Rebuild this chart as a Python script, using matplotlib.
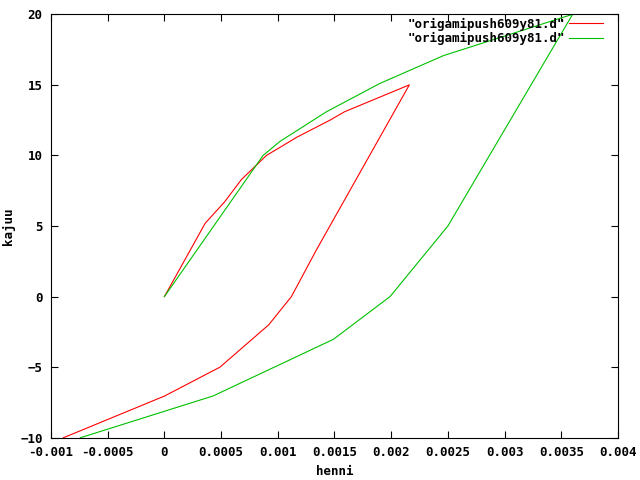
import matplotlib
matplotlib.use("Agg")
import matplotlib.pyplot as plt

# curve 1 (red): load up to peak, then unload
red_x = [0.0, 0.00036, 0.00053, 0.00068, 0.0009, 0.00117, 0.00146, 0.00159, 0.00216,
         0.00134, 0.00112, 0.00092, 0.00049, 0.0, -0.00089]
red_y = [0.0, 5.2, 6.7, 8.3, 10.0, 11.3, 12.5, 13.1, 15.0,
         3.3, 0.0, -2.0, -5.0, -7.05, -10.0]

# curve 2 (green)
green_x = [0.0, 0.00087, 0.00102, 0.00143, 0.0019, 0.00246, 0.0036,
           0.0025, 0.00199, 0.00149, 0.00043, -0.00074]
green_y = [0.0, 10.0, 11.0, 13.1, 15.1, 17.07, 20.0,
           5.0, 0.0, -3.03, -7.04, -10.0]

legend_label = '"origamipush609y81.d"'
x_ticks = [-0.001, -0.0005, 0, 0.0005, 0.001, 0.0015, 0.002, 0.0025, 0.003, 0.0035, 0.004]
x_tick_labels = ["-0.001", "-0.0005", "0", "0.0005", "0.001", "0.0015", "0.002",
                 "0.0025", "0.003", "0.0035", "0.004"]
y_ticks = [-10, -5, 0, 5, 10, 15, 20]

plt.rcParams['font.family'] = ['DejaVu Sans Mono']
plt.rcParams['font.weight'] = 'bold'
plt.rcParams['font.size'] = 9

fig = plt.figure(figsize=(6.4, 4.8), dpi=100)
ax = fig.add_axes([0.0797, 0.0881, 0.8859, 0.8821])

ax.plot(red_x, red_y, color='#ff0000', linewidth=0.8, label=legend_label)
ax.plot(green_x, green_y, color='#00c000', linewidth=0.8, label=legend_label)

ax.set_xlim(-0.001, 0.004)
ax.set_ylim(-10, 20)
ax.set_xticks(x_ticks)
ax.set_xticklabels(x_tick_labels)
ax.set_yticks(y_ticks)
ax.tick_params(direction='in', top=True, right=True, length=5, width=0.8, pad=6)
for s in ax.spines.values():
    s.set_linewidth(0.8)

ax.set_xlabel('henni', fontweight='bold', labelpad=4)
ax.set_ylabel('kajuu', fontweight='bold', labelpad=4)

ax.legend(loc='upper right', bbox_to_anchor=(0.978, 0.998), frameon=False,
          markerfirst=False, handlelength=2.7, handletextpad=0.3,
          labelspacing=0.1, borderaxespad=0, borderpad=0.2)

fig.savefig('out.png', dpi=100)
